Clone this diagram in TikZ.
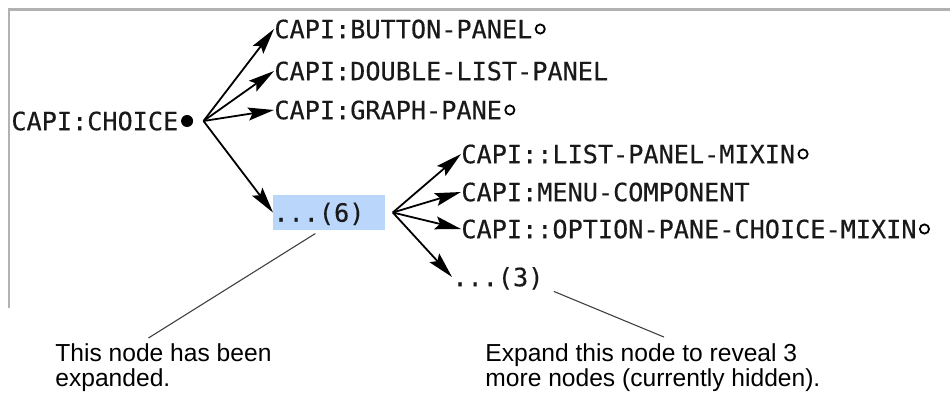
\documentclass[tikz,border=0pt]{standalone}
\usepackage{fontspec}
\usepackage{tikz}
\usetikzlibrary{arrows.meta, positioning}
\newfontfamily\capifont[FakeBold=0.4]{DejaVu Sans Mono}
\newfontfamily\notefont{Liberation Sans}
\definecolor{selblue}{RGB}{187,214,251}

\begin{document}
\begin{tikzpicture}[
    x=0.5pt, y=-0.5pt,
    cls/.style={font=\capifont\fontsize{12.6}{15}\selectfont, text height=9.2pt,
                text depth=0pt, inner sep=0pt, anchor=west, text=black!90},
    hollow/.style={circle, draw, line width=0.9pt, inner sep=0pt, minimum size=4.6pt},
    solid dot/.style={circle, fill, inner sep=0pt, minimum size=6pt},
    arrow/.style={-{Stealth[length=13pt, width=6.5pt, inset=2.2pt]}, line width=0.9pt},
    note/.style={font=\notefont\fontsize{12.3}{12.5}\selectfont, align=left,
                 anchor=north west, inner sep=0pt},
    callout/.style={draw=black!75, line width=0.55pt},
    frame/.style={draw=black!30, line width=1.2pt},
]
\useasboundingbox (0,0) rectangle (950,393);
\draw[frame] (9,308) -- (9,9.5) -- (950,9.5);

\node[cls] (choice) at (11,121) {CAPI:CHOICE};
\node[solid dot, right=1pt of choice] (dot) {};
\coordinate[right=5pt of dot] (fork1);

\node[cls] (bp) at (274,29) {CAPI:BUTTON-PANEL};
\node[hollow, right=1pt of bp] (bpo) {};
\node[cls] (dlp) at (274,71) {CAPI:DOUBLE-LIST-PANEL};
\node[cls] (gp) at (274,110) {CAPI:GRAPH-PANE};
\node[hollow, right=1pt of gp] (gpo) {};
\node[cls, fill=selblue, inner ysep=4.2pt, text width=56pt, align=left] (dots6)
    at (273,212.5) {...(6)};
\coordinate[right=3.5pt of dots6] (fork2);

\node[cls] (lpm) at (461,154) {CAPI::LIST-PANEL-MIXIN};
\node[hollow, right=1pt of lpm] (lpmo) {};
\node[cls] (mc) at (461,192) {CAPI:MENU-COMPONENT};
\node[cls] (opcm) at (461,229) {CAPI::OPTION-PANE-CHOICE-MIXIN};
\node[hollow, right=1pt of opcm] (opcmo) {};
\node[cls] (dots3) at (452,277) {...(3)};

\draw[arrow] (fork1) -- (bp.west);
\draw[arrow] (fork1) -- (dlp.west);
\draw[arrow] (fork1) -- (gp.west);
\draw[arrow] (fork1) -- (dots6.west);
\draw[arrow] (fork2) -- (lpm.west);
\draw[arrow] (fork2) -- (mc.west);
\draw[arrow] (fork2) -- (opcm.west);
\draw[arrow] (fork2) -- (dots3.west);

\node[note] (expanded) at (55,343) {This node has been\\expanded.};
\node[note] (hidden) at (485,343) {Expand this node to reveal 3\\more nodes (currently hidden).};

\draw[callout] ([xshift=-7pt, yshift=-1.5pt]dots6.south) -- ([xshift=-7.5pt, yshift=2.5pt]expanded.north);
\draw[callout] ([xshift=5pt, yshift=-2.4pt]dots3.south east) -- ([xshift=5.5pt, yshift=3pt]hidden.north);
\end{tikzpicture}
\end{document}
